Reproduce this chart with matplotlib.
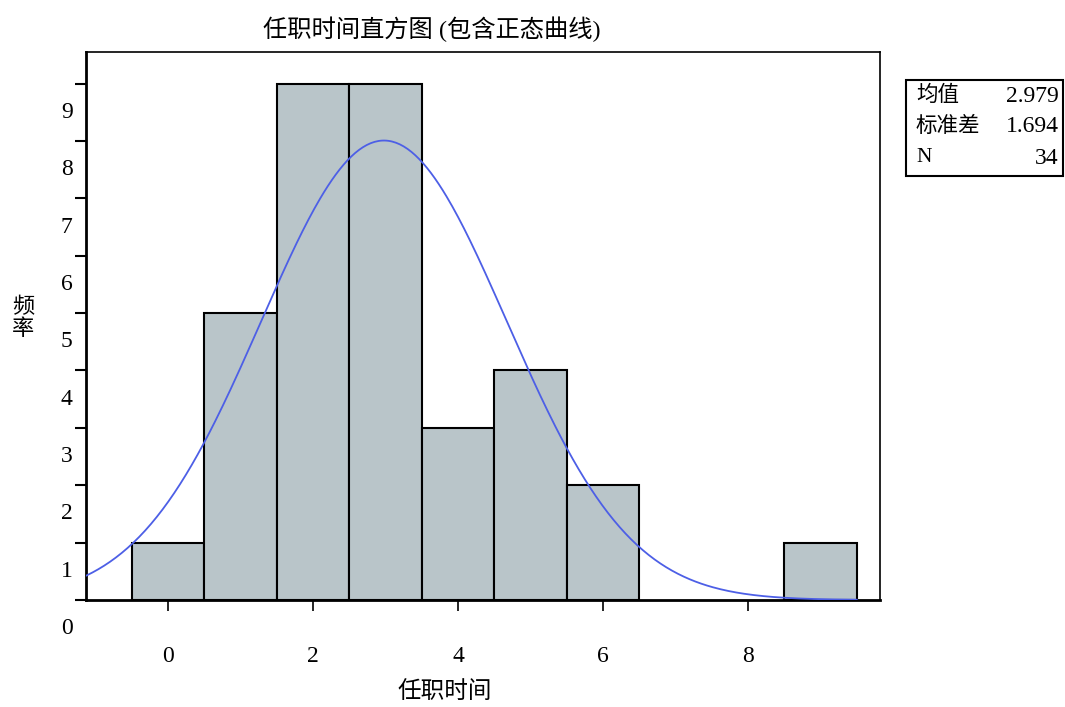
import matplotlib
import numpy as np

matplotlib.use("Agg")
import matplotlib.pyplot as plt
import matplotlib.transforms as mtransforms

# data
bins = [0, 1, 2, 3, 4, 5, 6, 9]
counts = [1, 5, 9, 9, 3, 4, 2, 1]
mean = 2.979
std = 1.694
n = 34
xticks = [0, 2, 4, 6, 8]
yticks = [0, 1, 2, 3, 4, 5, 6, 7, 8, 9]
stats_rows = [("均值", "2.979"), ("标准差", "1.694"), ("N", "34")]

fam = ['Liberation Serif', 'Noto Sans CJK SC']
plt.rcParams['font.family'] = fam

def main():
    fig = plt.figure(figsize=(10.65, 7.07), dpi=100)
    ax = fig.add_axes([86 / 1065, 1 - 600 / 707, 794 / 1065, 548 / 707])

    ax.bar(bins, counts, width=1.0, color='#b9c5c9', edgecolor='black',
           linewidth=1.5, zorder=2)

    # normal curve from the mean / std shown in the stats box
    xs = np.linspace(-1.2, 9.5, 400)
    ys = n * 1.0 / (std * np.sqrt(2 * np.pi)) * np.exp(-0.5 * ((xs - mean) / std) ** 2)
    ax.plot(xs, ys, color='#4d5fe6', linewidth=1.3, zorder=3)

    ax.set_xlim(-1.13, 9.82)
    ax.set_ylim(0, 9.55)

    for s in ax.spines.values():
        s.set_linewidth(1.2)
    ax.spines['left'].set_linewidth(2)
    ax.spines['bottom'].set_linewidth(2)

    ax.set_xticks(xticks)
    ax.set_xticklabels([str(v) for v in xticks], fontsize=17)
    ax.tick_params(axis='x', direction='out', length=8, width=1.2, pad=25)

    ax.set_yticks(yticks)
    ax.set_yticklabels([])
    ax.tick_params(axis='y', direction='out', length=8, width=1.5)
    trans = mtransforms.blended_transform_factory(ax.transAxes, ax.transData)
    for v in yticks:
        ax.text(-0.017, v - 0.5, str(v), transform=trans, ha='right', va='center',
                fontsize=17, clip_on=False)

    fig.text(23 / 1065, 1 - 319 / 707, "频\n率", ha='center', va='center',
             fontsize=16, linespacing=1.05)
    fig.text(432 / 1065, 1 - 29 / 707, "任职时间直方图 (包含正态曲线)", ha='center',
             va='center', fontsize=17.5)
    fig.text(445 / 1065, 1 - 692 / 707, "任职时间", ha='center', va='center',
             fontsize=17)

    # stats box
    box = plt.Rectangle((906 / 1065, 1 - 176 / 707), 157 / 1065, 96 / 707,
                        transform=fig.transFigure, fill=False, edgecolor='black',
                        linewidth=1.5)
    fig.add_artist(box)
    for i, (k, v) in enumerate(stats_rows):
        y = 1 - (96 + 31 * i) / 707
        fig.text(916 / 1065, y, k, ha='left', va='center', fontsize=15.5)
        fig.text(1059 / 1065, y, v, ha='right', va='center', fontsize=17)

    fig.savefig("out.png", dpi=100)

if __name__ == "__main__":
    main()
